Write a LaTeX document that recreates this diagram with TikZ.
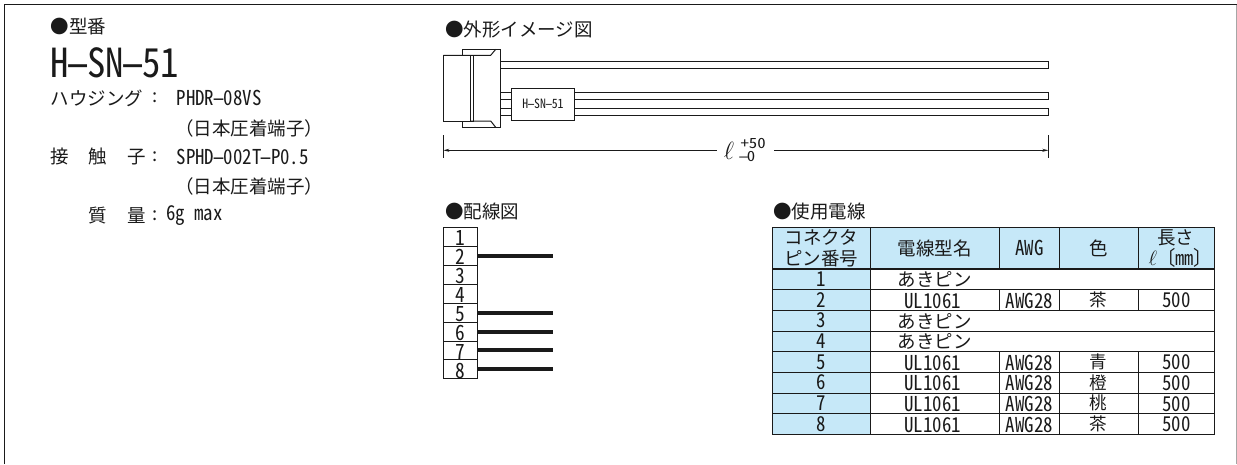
\documentclass[tikz,border=0pt]{standalone}
\usepackage{fontspec}
\usetikzlibrary{arrows.meta}
\setmainfont{Noto Sans CJK JP}
\newfontfamily\hw[RawFeature=+hwid,FakeStretch=0.92]{Noto Sans CJK JP}
\newfontfamily\hww[RawFeature=+hwid,FakeStretch=1.2]{Noto Sans CJK JP}
\newcommand{\hy}{\makebox[0.46em]{\scalebox{1.8}[1]{-}}}
\definecolor{ink}{HTML}{1A1A1A}
\definecolor{cellblue}{HTML}{C6E8F8}
\tikzset{
  x=1pt,y=-1pt,
  lbl/.style={inner sep=0pt,outer sep=0pt,text=ink,font=\fontsize{18.5}{20}\selectfont},
  lat/.style={inner sep=0pt,outer sep=0pt,text=ink,font=\hw\fontsize{20.5}{20}\selectfont},
  tolerance/.style={inner sep=0pt,outer sep=0pt,text=ink,font=\hww\fontsize{14}{14}\selectfont,anchor=west,text height=10pt,text depth=0pt},
  cell/.style={draw=ink,line width=1pt,inner sep=0pt,outer sep=0pt,anchor=north west},
  bluecell/.style={cell,fill=cellblue},
  pinbox/.style={draw=ink,line width=1pt,fill=white,inner sep=0pt,outer sep=0pt,anchor=north west,minimum width=33.7pt,minimum height=18.95pt,font=\hw\fontsize{21}{21}\selectfont},
  wirethick/.style={line width=4pt,draw=ink},
  thin/.style={line width=1pt,draw=ink},
  wirebody/.style={draw=ink,line width=1pt,fill=white,inner sep=0pt,outer sep=0pt,anchor=north west,minimum height=7pt},
}
\newcommand{\tcell}[7]{% name, x, y, w, h, style, text
  \node[#6,minimum width=#4 pt,minimum height=#5 pt] (#1) at (#2,#3) {};
  \node[lat] (#1t) at ([yshift=-0.6pt]#1.center) {#7};
}
\begin{document}
\begin{tikzpicture}
\useasboundingbox (0,0) rectangle (1237,464);
% frame
\coordinate (fa) at (4.5,464); \coordinate (fb) at (4.5,4.5);
\coordinate (fc) at (1236.5,4.5); \coordinate (fd) at (1236.5,464);
\draw[thin] (fa) -- (fb) -- (fc);
\draw[line width=1pt,draw=black!35] (fc) -- (fd);
% left column
\node[lbl,anchor=west] (t1) at (50.5,26.7) {●型番};
\node[lat,anchor=west,font=\hw\fontsize{40}{40}\selectfont] (t2) at (50.5,62.7) {H\hy SN\hy 51};
\node[lbl,anchor=west] (t3) at (50.5,98) {ハウジング};
\node[lbl,anchor=center] (c1) at (155,98) {:};
\node[lat,anchor=west] (t4) at (176.7,98) {PHDR\hy 08VS};
\node[lbl,anchor=west] (t5) at (175,128.5) {（日本圧着端子）};
\node[lbl,anchor=west] (t6a) at (50.5,156.7) {接};
\node[lbl,anchor=west] (t6b) at (88.5,156.7) {触};
\node[lbl,anchor=west] (t6c) at (127,156.7) {子};
\node[lbl,anchor=center] (c2) at (155,156.7) {:};
\node[lat,anchor=west] (t7) at (176.7,156.7) {SPHD\hy 002T\hy P0.5};
\node[lbl,anchor=west] (t8) at (175,186.7) {（日本圧着端子）};
\node[lbl,anchor=west] (t9a) at (88.5,216) {質};
\node[lbl,anchor=west] (t9b) at (127,216) {量};
\node[lbl,anchor=center] (c3) at (155,216) {:};
\node[lat,anchor=west] (t10) at (166,216) {6g max};
% outline drawing
\node[lbl,anchor=west] (h1) at (445,30) {●外形イメージ図};
\node[wirebody,minimum width=548pt] (w1) at (500.5,61.7) {};
\node[wirebody,minimum width=548pt] (w2) at (500.5,92.9) {};
\node[wirebody,minimum width=548pt] (w3) at (500.5,108.5) {};
\draw[thin,fill=white] (462.3,49.3) -- (500.5,49.3) -- (500.5,127.3) -- (462.3,127.3) -- cycle;
\draw[thin] (443.3,55.3) -- (490.7,55.3) -- (495.7,49.3);
\draw[thin] (443.3,121) -- (490.7,121) -- (495.7,127.3);
\draw[thin,fill=white] (443.3,55.3) rectangle (470.3,121);
\draw[thin] (470.3,55.3) rectangle (473.3,121);
\node[draw=ink,line width=1pt,fill=white,inner sep=0pt,outer sep=0pt,anchor=north west,minimum width=63.4pt,minimum height=31.7pt,font=\hw\fontsize{12.8}{12}\selectfont,text=ink] (tag) at (511.3,88.3) {H\hy SN\hy 51};
% dimension
\coordinate (da) at (443.3,135.3); \coordinate (db) at (443.3,157.7);
\coordinate (dc) at (1048.3,135.3); \coordinate (dd) at (1048.3,157.7);
\draw[thin] (da) -- (db); \draw[thin] (dc) -- (dd);
\node[inner sep=0pt,outer sep=0pt,text=ink,font=\fontsize{24}{24}\selectfont] (ell) at (729,150.7) {$\ell$};
\node[tolerance] (tolp) at (740.5,143.5) {+50};
\node[tolerance] (tolm) at (740.5,156.5) {\hy 0};
\coordinate (dl) at (443.3,150.3); \coordinate (dr) at (1048.3,150.3);
\coordinate (dl2) at (716.7,150.3); \coordinate (dr2) at (774,150.3);
\draw[thin,-{Stealth[length=6pt,width=3pt]}] (dl2) -- (dl);
\draw[thin,-{Stealth[length=6pt,width=3pt]}] (dr2) -- (dr);
% wiring
\node[lbl,anchor=west] (h2) at (445,211.7) {●配線図};
\foreach \i [evaluate=\i as \yy using {227.3+(\i-1)*18.95}] in {1,...,8}
  \node[pinbox] (p\i) at (443.3,\yy) {};
\foreach \i in {1,...,8}
  \node[inner sep=0pt,text=ink,font=\hw\fontsize{21}{21}\selectfont] (pt\i) at ([yshift=-1.1pt]p\i.center) {\i};
\foreach \i in {2,5,6,7,8} {
  \coordinate (e\i) at ([xshift=75.7pt]p\i.east);
  \draw[wirethick] ([xshift=0.7pt]p\i.east) -- (e\i);
}
% table
\node[lbl,anchor=west] (h3) at (773,211.7) {●使用電線};
\tcell{hA}{772}{227.7}{98.3}{41.3}{bluecell}{}
\tcell{hB}{870.3}{227.7}{128.7}{41.3}{bluecell}{}
\tcell{hC}{999}{227.7}{60.7}{41.3}{bluecell}{}
\tcell{hD}{1059.7}{227.7}{79}{41.3}{bluecell}{}
\tcell{hE}{1138.7}{227.7}{75.6}{41.3}{bluecell}{}
\node[lbl,align=center,font=\fontsize{18.5}{20.4}\selectfont] (hAa) at (hA.center) {コネクタ\\ピン番号};
\node[lbl] (hBa) at (hB.center) {電線型名};
\node[lat] (hCa) at (hC.center) {AWG};
\node[lbl] (hDa) at (hD.center) {色};
\node[lbl] (hEa) at (1175.7,238) {長さ};
\node[lat,font=\hw\fontsize{20}{20}\selectfont] (hEb) at (1180.5,258) {$\ell$〔mm〕};
\draw[line width=2pt,draw=ink] (hA.south west) -- (hE.south east);
\foreach \i/\yy in {1/269,2/289.67,3/310.33,4/331,5/351.67,6/372.33,7/393,8/413.67} {
  \node[bluecell,minimum width=98.3pt,minimum height=20.67pt] (r\i) at (772,\yy) {};
  \node[lat] (rt\i) at (r\i.center) {\i};
}
\foreach \i/\yy in {1/269,3/310.33,4/331} {
  \node[cell,minimum width=344pt,minimum height=20.67pt] (u\i) at (870.3,\yy) {};
  \node[lbl,font=\fontsize{18.5}{20}\selectfont] (ut\i) at ([yshift=-0.5pt]u\i.center -| 934.5,0) {あきピン};
}
\foreach \i/\c/\yy in {2/茶/289.67,5/青/351.67,6/橙/372.33,7/桃/393,8/茶/413.67} {
  \node[cell,minimum width=128.7pt,minimum height=20.67pt] (a\i) at (870.3,\yy) {};
  \node[lat] (a\i t) at ([xshift=-2pt,yshift=-0.6pt]a\i.center) {UL1061};
  \tcell{b\i}{999}{\yy}{60.7}{20.67}{cell}{AWG28}
  \tcell{c\i}{1059.7}{\yy}{79}{20.67}{cell}{}
  \tcell{d\i}{1138.7}{\yy}{75.6}{20.67}{cell}{500}
  \node[lbl,font=\fontsize{17.5}{18}\selectfont] (ct\i) at ([xshift=-1pt,yshift=0.3pt]c\i.center) {\c};
}
\end{tikzpicture}
\end{document}
